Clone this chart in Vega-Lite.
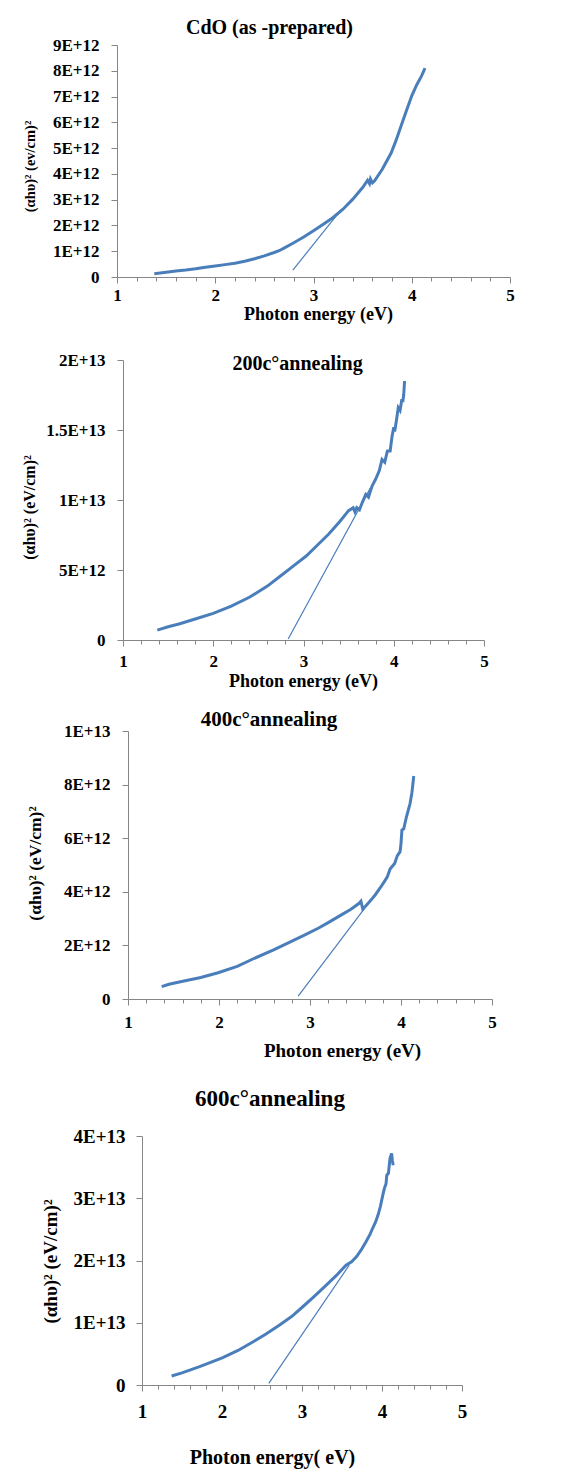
{
  "$schema": "https://vega.github.io/schema/vega-lite/v6.json",
  "background": "white",
  "padding": {"left": 0, "top": 18, "right": 5, "bottom": 5},
  "spacing": 19,
  "config": {
    "view": {"stroke": null},
    "axis": {
      "grid": false,
      "domainColor": "#868686",
      "tickColor": "#868686",
      "labelFont": "Liberation Serif",
      "labelFontWeight": "bold",
      "labelColor": "black",
      "titleFont": "Liberation Serif",
      "titleFontWeight": "bold",
      "titleColor": "black",
      "labelOverlap": false,
      "labelFlush": false
    },
    "title": {"font": "Liberation Serif", "fontWeight": "bold", "color": "black", "frame": "group", "anchor": "middle", "baseline": "middle"}
  },
  "vconcat": [
    {
      "spacing": 0,
      "hconcat": [
        {"width": 21, "height": 1, "data": {"values": []}, "mark": "point"},
        {
          "width": 393, "height": 232,
          "title": {"text": "CdO (as -prepared)", "fontSize": 20, "offset": -2, "dx": -44},
          "data": {"values": [
            {"x": 1.38, "y": 0.13e12, "s": "curve"},
            {"x": 1.5, "y": 0.18e12, "s": "curve"},
            {"x": 1.6, "y": 0.23e12, "s": "curve"},
            {"x": 1.7, "y": 0.27e12, "s": "curve"},
            {"x": 1.8, "y": 0.32e12, "s": "curve"},
            {"x": 1.9, "y": 0.38e12, "s": "curve"},
            {"x": 2.0, "y": 0.43e12, "s": "curve"},
            {"x": 2.1, "y": 0.48e12, "s": "curve"},
            {"x": 2.2, "y": 0.53e12, "s": "curve"},
            {"x": 2.3, "y": 0.61e12, "s": "curve"},
            {"x": 2.4, "y": 0.71e12, "s": "curve"},
            {"x": 2.5, "y": 0.82e12, "s": "curve"},
            {"x": 2.6, "y": 0.95e12, "s": "curve"},
            {"x": 2.65, "y": 1.02e12, "s": "curve"},
            {"x": 2.7, "y": 1.12e12, "s": "curve"},
            {"x": 2.8, "y": 1.33e12, "s": "curve"},
            {"x": 2.9, "y": 1.55e12, "s": "curve"},
            {"x": 3.0, "y": 1.79e12, "s": "curve"},
            {"x": 3.1, "y": 2.05e12, "s": "curve"},
            {"x": 3.2, "y": 2.31e12, "s": "curve"},
            {"x": 3.3, "y": 2.63e12, "s": "curve"},
            {"x": 3.4, "y": 3.02e12, "s": "curve"},
            {"x": 3.5, "y": 3.47e12, "s": "curve"},
            {"x": 3.55, "y": 3.75e12, "s": "curve"},
            {"x": 3.57, "y": 3.62e12, "s": "curve"},
            {"x": 3.58, "y": 3.8e12, "s": "curve"},
            {"x": 3.6, "y": 3.65e12, "s": "curve"},
            {"x": 3.62, "y": 3.72e12, "s": "curve"},
            {"x": 3.7, "y": 4.18e12, "s": "curve"},
            {"x": 3.79, "y": 4.81e12, "s": "curve"},
            {"x": 3.84, "y": 5.3e12, "s": "curve"},
            {"x": 3.9, "y": 5.95e12, "s": "curve"},
            {"x": 3.95, "y": 6.5e12, "s": "curve"},
            {"x": 4.0, "y": 7.03e12, "s": "curve"},
            {"x": 4.05, "y": 7.45e12, "s": "curve"},
            {"x": 4.1, "y": 7.8e12, "s": "curve"},
            {"x": 4.135, "y": 8.1e12, "s": "curve"},
            {"x": 2.79, "y": 0.27e12, "s": "tangent"},
            {"x": 3.28, "y": 2.6e12, "s": "tangent"}
          ]},
          "mark": {"type": "line", "color": "#4a7ebb"},
          "encoding": {
            "x": {"field": "x", "type": "quantitative",
              "scale": {"domain": [1, 5], "nice": false, "zero": false},
              "axis": {"title": "Photon energy (eV)", "values": [1,1.2,1.4,1.6,1.8,2,2.2,2.4,2.6,2.8,3,3.2,3.4,3.6,3.8,4,4.2,4.4,4.6,4.8,5],
                "labelExpr": "datum.value % 1 === 0 ? format(datum.value, 'd') : ''",
                "tickSize": {"condition": {"test": "datum.value % 1 === 0", "value": 6}, "value": 4},
                "labelFontSize": 17, "labelPadding": 4, "titleFontSize": 18,
                "titleX": 201, "titleY": 37, "titleBaseline": "middle", "titleAlign": "center"}},
            "y": {"field": "y", "type": "quantitative",
              "scale": {"domain": [0, 9e12], "nice": false},
              "axis": {"title": "(αhυ)² (ev/cm)²", "values": [0,1e12,2e12,3e12,4e12,5e12,6e12,7e12,8e12,9e12],
                "labelExpr": "datum.value === 0 ? '0' : upper(format(datum.value, '~e'))",
                "tickSize": 6, "labelFontSize": 17, "labelPadding": 12, "titleFontSize": 14.5,
                "titleX": -87, "titleY": 121, "titleBaseline": "middle", "titleAlign": "center", "titleAngle": -90}},
            "strokeWidth": {"field": "s", "type": "nominal", "scale": {"domain": ["curve", "tangent"], "range": [3, 1.2]}, "legend": null}
          }
        }
      ]
    },
    {
      "spacing": 0,
      "hconcat": [
        {"width": 21, "height": 1, "data": {"values": []}, "mark": "point",
          "title": {"text": " ", "fontSize": 2, "offset": 15.6}},
        {
          "width": 361, "height": 280,
          "title": {"text": "200c°annealing", "fontSize": 20, "offset": -23.4, "dx": -6},
          "data": {"values": [
            {"x": 1.38, "y": 0.71e12, "s": "curve"},
            {"x": 1.5, "y": 0.95e12, "s": "curve"},
            {"x": 1.62, "y": 1.14e12, "s": "curve"},
            {"x": 1.8, "y": 1.5e12, "s": "curve"},
            {"x": 2.0, "y": 1.9e12, "s": "curve"},
            {"x": 2.2, "y": 2.42e12, "s": "curve"},
            {"x": 2.4, "y": 3.05e12, "s": "curve"},
            {"x": 2.6, "y": 3.85e12, "s": "curve"},
            {"x": 2.77, "y": 4.7e12, "s": "curve"},
            {"x": 2.9, "y": 5.35e12, "s": "curve"},
            {"x": 3.03, "y": 6.0e12, "s": "curve"},
            {"x": 3.15, "y": 6.75e12, "s": "curve"},
            {"x": 3.28, "y": 7.57e12, "s": "curve"},
            {"x": 3.4, "y": 8.45e12, "s": "curve"},
            {"x": 3.5, "y": 9.24e12, "s": "curve"},
            {"x": 3.55, "y": 9.45e12, "s": "curve"},
            {"x": 3.57, "y": 9.15e12, "s": "curve"},
            {"x": 3.59, "y": 9.45e12, "s": "curve"},
            {"x": 3.62, "y": 9.3e12, "s": "curve"},
            {"x": 3.65, "y": 9.8e12, "s": "curve"},
            {"x": 3.69, "y": 10.4e12, "s": "curve"},
            {"x": 3.72, "y": 10.2e12, "s": "curve"},
            {"x": 3.76, "y": 11.0e12, "s": "curve"},
            {"x": 3.8, "y": 11.5e12, "s": "curve"},
            {"x": 3.84, "y": 12.1e12, "s": "curve"},
            {"x": 3.87, "y": 12.9e12, "s": "curve"},
            {"x": 3.9, "y": 12.7e12, "s": "curve"},
            {"x": 3.93, "y": 13.5e12, "s": "curve"},
            {"x": 3.96, "y": 13.5e12, "s": "curve"},
            {"x": 3.98, "y": 14.5e12, "s": "curve"},
            {"x": 4.0, "y": 15.2e12, "s": "curve"},
            {"x": 4.01, "y": 14.9e12, "s": "curve"},
            {"x": 4.03, "y": 15.7e12, "s": "curve"},
            {"x": 4.05, "y": 16.6e12, "s": "curve"},
            {"x": 4.07, "y": 16.4e12, "s": "curve"},
            {"x": 4.09, "y": 17.2e12, "s": "curve"},
            {"x": 4.1, "y": 17.0e12, "s": "curve"},
            {"x": 4.11, "y": 17.5e12, "s": "curve"},
            {"x": 4.12, "y": 18.5e12, "s": "curve"},
            {"x": 2.83, "y": 0.07e12, "s": "tangent"},
            {"x": 3.745, "y": 10.9e12, "s": "tangent"}
          ]},
          "mark": {"type": "line", "color": "#4a7ebb"},
          "encoding": {
            "x": {"field": "x", "type": "quantitative",
              "scale": {"domain": [1, 5], "nice": false, "zero": false},
              "axis": {"title": "Photon energy (eV)", "values": [1,1.2,1.4,1.6,1.8,2,2.2,2.4,2.6,2.8,3,3.2,3.4,3.6,3.8,4,4.2,4.4,4.6,4.8,5],
                "labelExpr": "datum.value % 1 === 0 ? format(datum.value, 'd') : ''",
                "tickSize": {"condition": {"test": "datum.value % 1 === 0", "value": 6}, "value": 4},
                "labelFontSize": 17, "labelPadding": 7, "titleFontSize": 18,
                "titleX": 180, "titleY": 41, "titleBaseline": "middle", "titleAlign": "center"}},
            "y": {"field": "y", "type": "quantitative",
              "scale": {"domain": [0, 2e13], "nice": false},
              "axis": {"title": "(αhυ)² (eV/cm)²", "values": [0,5e12,1e13,1.5e13,2e13],
                "labelExpr": "datum.value === 0 ? '0' : upper(format(datum.value, '~e'))",
                "tickSize": 6, "labelFontSize": 17, "labelPadding": 12, "titleFontSize": 16,
                "titleX": -94, "titleY": 147, "titleBaseline": "middle", "titleAlign": "center", "titleAngle": -90}},
            "strokeWidth": {"field": "s", "type": "nominal", "scale": {"domain": ["curve", "tangent"], "range": [3, 1.2]}, "legend": null}
          }
        }
      ]
    },
    {
      "spacing": 0,
      "hconcat": [
        {"width": 25, "height": 1, "data": {"values": []}, "mark": "point"},
        {
          "width": 364, "height": 268,
          "title": {"text": "400c°annealing", "fontSize": 21, "offset": -8.3, "dx": -41},
          "data": {"values": [
            {"x": 1.37, "y": 0.46e12, "s": "curve"},
            {"x": 1.45, "y": 0.55e12, "s": "curve"},
            {"x": 1.59, "y": 0.65e12, "s": "curve"},
            {"x": 1.8, "y": 0.8e12, "s": "curve"},
            {"x": 1.99, "y": 0.98e12, "s": "curve"},
            {"x": 2.2, "y": 1.22e12, "s": "curve"},
            {"x": 2.39, "y": 1.52e12, "s": "curve"},
            {"x": 2.6, "y": 1.83e12, "s": "curve"},
            {"x": 2.79, "y": 2.14e12, "s": "curve"},
            {"x": 2.95, "y": 2.4e12, "s": "curve"},
            {"x": 3.09, "y": 2.64e12, "s": "curve"},
            {"x": 3.2, "y": 2.85e12, "s": "curve"},
            {"x": 3.34, "y": 3.13e12, "s": "curve"},
            {"x": 3.45, "y": 3.35e12, "s": "curve"},
            {"x": 3.54, "y": 3.57e12, "s": "curve"},
            {"x": 3.56, "y": 3.65e12, "s": "curve"},
            {"x": 3.58, "y": 3.35e12, "s": "curve"},
            {"x": 3.62, "y": 3.5e12, "s": "curve"},
            {"x": 3.67, "y": 3.69e12, "s": "curve"},
            {"x": 3.72, "y": 3.9e12, "s": "curve"},
            {"x": 3.78, "y": 4.19e12, "s": "curve"},
            {"x": 3.82, "y": 4.4e12, "s": "curve"},
            {"x": 3.85, "y": 4.56e12, "s": "curve"},
            {"x": 3.88, "y": 4.85e12, "s": "curve"},
            {"x": 3.93, "y": 5.06e12, "s": "curve"},
            {"x": 3.96, "y": 5.35e12, "s": "curve"},
            {"x": 3.99, "y": 5.5e12, "s": "curve"},
            {"x": 4.0, "y": 5.8e12, "s": "curve"},
            {"x": 4.01, "y": 6.3e12, "s": "curve"},
            {"x": 4.03, "y": 6.35e12, "s": "curve"},
            {"x": 4.06, "y": 6.8e12, "s": "curve"},
            {"x": 4.1, "y": 7.3e12, "s": "curve"},
            {"x": 4.12, "y": 7.7e12, "s": "curve"},
            {"x": 4.13, "y": 8.0e12, "s": "curve"},
            {"x": 4.14, "y": 8.32e12, "s": "curve"},
            {"x": 2.87, "y": 0.11e12, "s": "tangent"},
            {"x": 3.6, "y": 3.38e12, "s": "tangent"}
          ]},
          "mark": {"type": "line", "color": "#4a7ebb"},
          "encoding": {
            "x": {"field": "x", "type": "quantitative",
              "scale": {"domain": [1, 5], "nice": false, "zero": false},
              "axis": {"title": "Photon energy (eV)", "values": [1,1.2,1.4,1.6,1.8,2,2.2,2.4,2.6,2.8,3,3.2,3.4,3.6,3.8,4,4.2,4.4,4.6,4.8,5],
                "labelExpr": "datum.value % 1 === 0 ? format(datum.value, 'd') : ''",
                "tickSize": {"condition": {"test": "datum.value % 1 === 0", "value": 6}, "value": 4},
                "labelFontSize": 17, "labelPadding": 9, "titleFontSize": 19,
                "titleX": 214, "titleY": 51, "titleBaseline": "middle", "titleAlign": "center"}},
            "y": {"field": "y", "type": "quantitative",
              "scale": {"domain": [0, 1e13], "nice": false},
              "axis": {"title": "(αhυ)² (eV/cm)²", "values": [0,2e12,4e12,6e12,8e12,1e13],
                "labelExpr": "datum.value === 0 ? '0' : upper(format(datum.value, '~e'))",
                "tickSize": 6, "labelFontSize": 17, "labelPadding": 12, "titleFontSize": 17.5,
                "titleX": -93, "titleY": 132, "titleBaseline": "middle", "titleAlign": "center", "titleAngle": -90}},
            "strokeWidth": {"field": "s", "type": "nominal", "scale": {"domain": ["curve", "tangent"], "range": [3, 1.2]}, "legend": null}
          }
        }
      ]
    },
    {
      "spacing": 0,
      "hconcat": [
        {"width": 40, "height": 1, "data": {"values": []}, "mark": "point",
          "title": {"text": " ", "fontSize": 2, "offset": 54.5}},
        {
          "width": 320, "height": 249,
          "title": {"text": "600c°annealing", "fontSize": 23, "offset": 16, "dx": -32},
          "data": {"values": [
            {"x": 1.37, "y": 1.44e12, "s": "curve"},
            {"x": 1.5, "y": 1.95e12, "s": "curve"},
            {"x": 1.72, "y": 2.94e12, "s": "curve"},
            {"x": 1.85, "y": 3.6e12, "s": "curve"},
            {"x": 2.01, "y": 4.39e12, "s": "curve"},
            {"x": 2.2, "y": 5.55e12, "s": "curve"},
            {"x": 2.39, "y": 6.95e12, "s": "curve"},
            {"x": 2.55, "y": 8.2e12, "s": "curve"},
            {"x": 2.72, "y": 9.63e12, "s": "curve"},
            {"x": 2.87, "y": 11.0e12, "s": "curve"},
            {"x": 3.01, "y": 12.57e12, "s": "curve"},
            {"x": 3.15, "y": 14.2e12, "s": "curve"},
            {"x": 3.3, "y": 16.0e12, "s": "curve"},
            {"x": 3.43, "y": 17.6e12, "s": "curve"},
            {"x": 3.55, "y": 19.25e12, "s": "curve"},
            {"x": 3.62, "y": 19.8e12, "s": "curve"},
            {"x": 3.68, "y": 20.6e12, "s": "curve"},
            {"x": 3.74, "y": 21.7e12, "s": "curve"},
            {"x": 3.8, "y": 23.0e12, "s": "curve"},
            {"x": 3.85, "y": 24.2e12, "s": "curve"},
            {"x": 3.88, "y": 25.1e12, "s": "curve"},
            {"x": 3.92, "y": 26.2e12, "s": "curve"},
            {"x": 3.95, "y": 27.3e12, "s": "curve"},
            {"x": 3.98, "y": 28.7e12, "s": "curve"},
            {"x": 4.01, "y": 30.5e12, "s": "curve"},
            {"x": 4.03, "y": 31.6e12, "s": "curve"},
            {"x": 4.05, "y": 32.3e12, "s": "curve"},
            {"x": 4.06, "y": 33.7e12, "s": "curve"},
            {"x": 4.08, "y": 34.0e12, "s": "curve"},
            {"x": 4.1, "y": 36.4e12, "s": "curve"},
            {"x": 4.12, "y": 37.2e12, "s": "curve"},
            {"x": 4.13, "y": 36.0e12, "s": "curve"},
            {"x": 4.14, "y": 35.3e12, "s": "curve"},
            {"x": 2.585, "y": 0.27e12, "s": "tangent"},
            {"x": 3.59, "y": 19.25e12, "s": "tangent"}
          ]},
          "mark": {"type": "line", "color": "#4a7ebb"},
          "encoding": {
            "x": {"field": "x", "type": "quantitative",
              "scale": {"domain": [1, 5], "nice": false, "zero": false},
              "axis": {"title": "Photon energy( eV)", "values": [1,1.2,1.4,1.6,1.8,2,2.2,2.4,2.6,2.8,3,3.2,3.4,3.6,3.8,4,4.2,4.4,4.6,4.8,5],
                "labelExpr": "datum.value % 1 === 0 ? format(datum.value, 'd') : ''",
                "tickSize": {"condition": {"test": "datum.value % 1 === 0", "value": 6}, "value": 4},
                "labelFontSize": 19, "labelPadding": 11, "titleFontSize": 20,
                "titleX": 130, "titleY": 72, "titleBaseline": "middle", "titleAlign": "center"}},
            "y": {"field": "y", "type": "quantitative",
              "scale": {"domain": [0, 4e13], "nice": false},
              "axis": {"title": "(αhυ)² (eV/cm)²", "values": [0,1e13,2e13,3e13,4e13],
                "labelExpr": "datum.value === 0 ? '0' : upper(format(datum.value, '~e'))",
                "tickSize": 6, "labelFontSize": 19, "labelPadding": 11, "titleFontSize": 19,
                "titleX": -92, "titleY": 125, "titleBaseline": "middle", "titleAlign": "center", "titleAngle": -90}},
            "strokeWidth": {"field": "s", "type": "nominal", "scale": {"domain": ["curve", "tangent"], "range": [3, 1.2]}, "legend": null}
          }
        }
      ]
    }
  ]
}
